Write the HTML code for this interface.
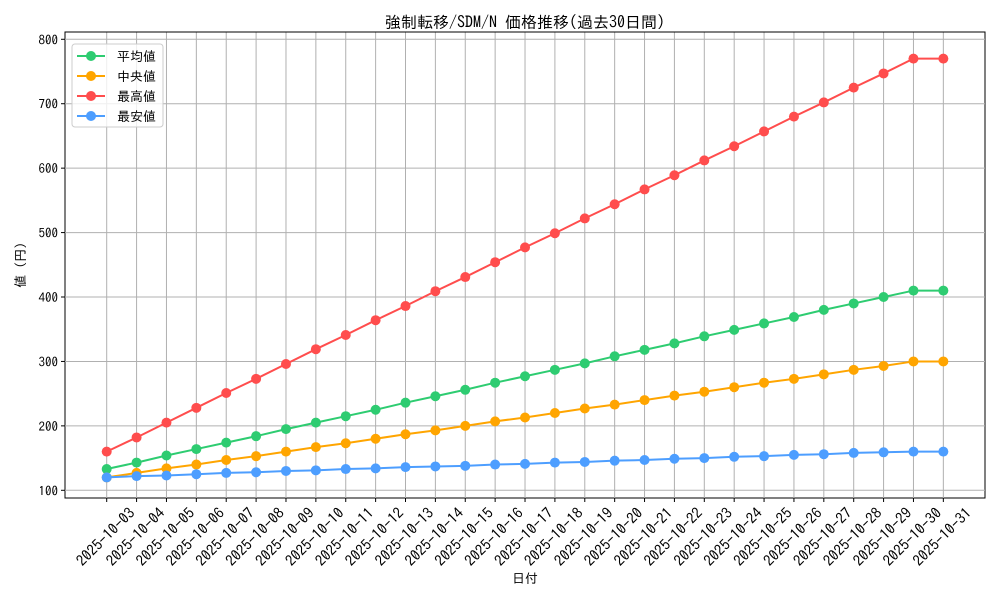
<!DOCTYPE html>
<html><head><meta charset="utf-8"><style>
body{margin:0;background:#fff}
svg{font-family:"IPAGothic","Noto Sans CJK JP",sans-serif}
</style></head><body>
<svg id="s" width="1000" height="600" xmlns="http://www.w3.org/2000/svg"></svg>
<script>
const mx=[160,182,205,228,251,273,296,319,341,364,386,409,431,454,477,499,522,544,567,589,612,634,657,680,702,725,747,770,770];
const av=[133,143,154,164,174,184,195,205,215,225,236,246,256,267,277,287,297,308,318,328,339,349,359,369,380,390,400,410,410];
const md=[120,127,134,140,147,153,160,167,173,180,187,193,200,207,213,220,227,233,240,247,253,260,267,273,280,287,293,300,300];
const mn=[120,122,123,125,127,128,130,131,133,134,136,137,138,140,141,143,144,146,147,149,150,152,153,155,156,158,159,160,160];
const X=i=>106.7+i*29.88, Y=v=>490.3-(v-100)*0.6443;
let h='<rect x="65" y="32" width="920" height="466" fill="#fff" stroke="#000" stroke-width="1"/>';
for(let i=0;i<29;i++){const x=X(i);h+=`<line x1="${x}" y1="32" x2="${x}" y2="498" stroke="#b0b0b0"/><line x1="${x}" y1="498" x2="${x}" y2="502" stroke="#000"/>`;
const d='2025-10-'+String(i+3).padStart(2,'0');
h+=`<text transform="translate(${x-1},537) rotate(-45)" text-anchor="middle" dy="5" font-size="15" fill="#000">${d}</text>`;}
for(let v=100;v<=800;v+=100){const y=Y(v);h+=`<line x1="65" y1="${y}" x2="985" y2="${y}" stroke="#b0b0b0"/><line x1="61" y1="${y}" x2="65" y2="${y}" stroke="#000"/><text x="58" y="${y+5}" text-anchor="end" font-size="13">${v}</text>`;}
const S=[[av,'#2ecc71'],[md,'#ffa500'],[mx,'#ff4d4d'],[mn,'#4d9eff']];
for(const [d,c] of S){h+=`<polyline fill="none" stroke="${c}" stroke-width="2" points="${d.map((v,i)=>X(i)+','+Y(v)).join(' ')}"/>`;
d.forEach((v,i)=>h+=`<circle cx="${X(i)}" cy="${Y(v)}" r="5" fill="${c}"/>`);}
h+='<rect x="72" y="44" width="91" height="83" rx="3" fill="#fff" fill-opacity="0.8" stroke="#ccc"/>';
const L=['平均値','中央値','最高値','最安値'];
S.forEach(([d,c],k)=>{const y=56+k*20;h+=`<line x1="77" y1="${y}" x2="105" y2="${y}" stroke="${c}" stroke-width="2"/><circle cx="91" cy="${y}" r="5" fill="${c}"/><text x="117" y="${y+5}" font-size="13">${L[k]}</text>`;});
h+='<line x1="65" y1="32" x2="985" y2="32" stroke="#000"/>';
h+='<text x="525" y="28" text-anchor="middle" font-size="16">強制転移/SDM/N 価格推移(過去30日間)</text>';
h+='<text x="525" y="583" text-anchor="middle" font-size="13">日付</text>';
h+='<text transform="translate(25,265) rotate(-90)" text-anchor="middle" font-size="13">値 (円)</text>';
document.getElementById('s').innerHTML=h;
</script>
</body></html>
